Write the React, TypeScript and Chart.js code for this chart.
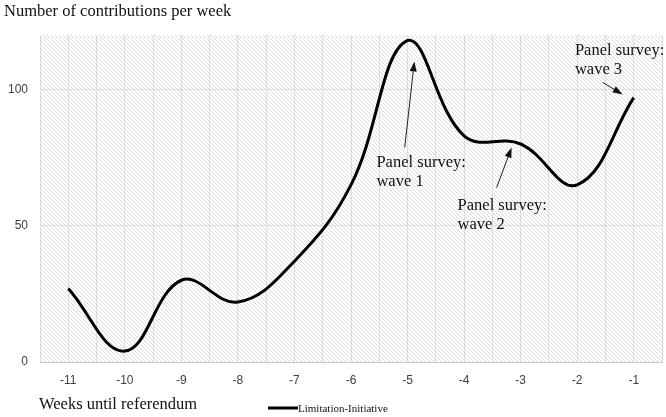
import React, { useEffect, useRef } from "react";
import { Chart, registerables } from "chart.js";

Chart.register(...registerables);

const weeks = [-11, -10, -9, -8, -7, -6, -5, -4, -3, -2, -1];
const contributions = [27, 4, 30, 22, 37, 65, 118, 83, 80, 65, 97];
const yTicks = [0, 50, 100];
const seriesName = "Limitation-Initiative";
const yTitle = "Number of contributions per week";
const xTitle = "Weeks until referendum";

// annotations in data units: text anchor (left, first baseline), arrow tail, arrow tip
const annoLines = [
  ["Panel survey:", "wave 1"],
  ["Panel survey:", "wave 2"],
  ["Panel survey:", "wave 3"],
];
const annoTextX = [-5.55, -4.115, -2.04];
const annoTextY = [71.5, 55.9, 112.5];
const arrowTailX = [-5.05, -3.425, -1.55];
const arrowTailY = [78.7, 64, 102.6];
const arrowTipX = [-4.88, -3.16, -1.195];
const arrowTipY = [110.3, 78.7, 98.2];

function makePattern(ctx: CanvasRenderingContext2D) {
  const c = document.createElement("canvas");
  c.width = 4;
  c.height = 4;
  const g = c.getContext("2d")!;
  g.fillStyle = "#ffffff";
  g.fillRect(0, 0, 4, 4);
  g.fillStyle = "#dddddd";
  for (let i = 0; i < 4; i++) g.fillRect(i, i, 1, 1);
  return ctx.createPattern(c, "repeat");
}

const decor = {
  id: "decor",
  beforeDraw(chart: any) {
    const { ctx, chartArea } = chart;
    ctx.save();
    ctx.fillStyle = "#ffffff";
    ctx.fillRect(0, 0, chart.width, chart.height);
    const p = makePattern(ctx);
    if (p) {
      ctx.fillStyle = p;
      ctx.fillRect(chartArea.left, chartArea.top, chartArea.right - chartArea.left, chartArea.bottom - chartArea.top);
    }
    ctx.restore();
  },
  afterDraw(chart: any) {
    const { ctx } = chart;
    const xs = chart.scales.x;
    const ys = chart.scales.y;
    ctx.save();
    ctx.fillStyle = "#111111";
    ctx.textAlign = "left";
    ctx.textBaseline = "alphabetic";
    ctx.font = '16.5px "Liberation Serif"';
    ctx.fillText(yTitle, 4, 16);
    ctx.fillText(xTitle, 39, 409);

    // legend
    ctx.strokeStyle = "#000000";
    ctx.lineWidth = 3;
    ctx.beginPath();
    ctx.moveTo(268, 408);
    ctx.lineTo(298, 408);
    ctx.stroke();
    ctx.font = '11px "Liberation Serif"';
    ctx.fillText(seriesName, 298, 412);

    // annotations
    ctx.font = '16.5px "Liberation Serif"';
    for (let i = 0; i < annoLines.length; i++) {
      const tx = xs.getPixelForValue(annoTextX[i]);
      const ty = ys.getPixelForValue(annoTextY[i]);
      annoLines[i].forEach((l, j) => ctx.fillText(l, tx, ty + j * 19));
      const x0 = xs.getPixelForValue(arrowTailX[i]);
      const y0 = ys.getPixelForValue(arrowTailY[i]);
      const x1 = xs.getPixelForValue(arrowTipX[i]);
      const y1 = ys.getPixelForValue(arrowTipY[i]);
      const ang = Math.atan2(y1 - y0, x1 - x0);
      const hl = 10;
      const hw = 3.5;
      const bx = x1 - hl * Math.cos(ang);
      const by = y1 - hl * Math.sin(ang);
      ctx.strokeStyle = "#222222";
      ctx.lineWidth = 1;
      ctx.beginPath();
      ctx.moveTo(x0, y0);
      ctx.lineTo(bx, by);
      ctx.stroke();
      ctx.fillStyle = "#111111";
      ctx.beginPath();
      ctx.moveTo(x1, y1);
      ctx.lineTo(bx + hw * Math.sin(ang), by - hw * Math.cos(ang));
      ctx.lineTo(bx - hw * Math.sin(ang), by + hw * Math.cos(ang));
      ctx.closePath();
      ctx.fill();
    }
    ctx.restore();
  },
};

export default function App() {
  const ref = useRef<HTMLCanvasElement>(null);
  useEffect(() => {
    if (!ref.current) return;
    const chart = new Chart(ref.current, {
      type: "line",
      data: {
        datasets: [
          {
            label: seriesName,
            data: weeks.map((w, i) => ({ x: w, y: contributions[i] })),
            borderColor: "#000000",
            borderWidth: 3,
            pointRadius: 0,
            tension: 0.4,
            fill: false,
          },
        ],
      },
      options: {
        responsive: false,
        animation: false,
        layout: { padding: { top: 35, right: 4, left: 0, bottom: 0 } },
        plugins: { legend: { display: false }, tooltip: { enabled: false } },
        scales: {
          x: {
            type: "linear",
            min: -11.5,
            max: -0.5,
            afterFit: (s: any) => {
              s.height = 55;
              s.paddingLeft = 0;
              s.paddingRight = 0;
            },
            ticks: {
              stepSize: 0.5,
              autoSkip: false,
              maxRotation: 0,
              padding: 11,
              color: "#404040",
              font: { family: '"Liberation Sans"', size: 12 },
              callback: (v: any) => (Number.isInteger(v) ? String(v) : ""),
            },
            grid: { color: "#dcdcdc", drawTicks: false, lineWidth: 1 },
            border: { display: true, color: "#c8c8c8", width: 1 },
          },
          y: {
            min: 0,
            max: 120,
            afterFit: (s: any) => {
              s.width = 40;
              s.paddingTop = 0;
              s.paddingBottom = 0;
            },
            afterBuildTicks: (s: any) => {
              s.ticks = yTicks.map((v) => ({ value: v }));
            },
            ticks: {
              padding: 12,
              color: "#404040",
              font: { family: '"Liberation Sans"', size: 12 },
            },
            grid: { color: "#dcdcdc", drawTicks: false, lineWidth: 1 },
            border: { display: false },
          },
        },
      },
      plugins: [decor],
    });
    return () => chart.destroy();
  }, []);
  return (
    <div style={{ position: "fixed", left: 0, top: 0, width: 666, height: 417 }}>
      <canvas ref={ref} width={666} height={417} />
    </div>
  );
}
